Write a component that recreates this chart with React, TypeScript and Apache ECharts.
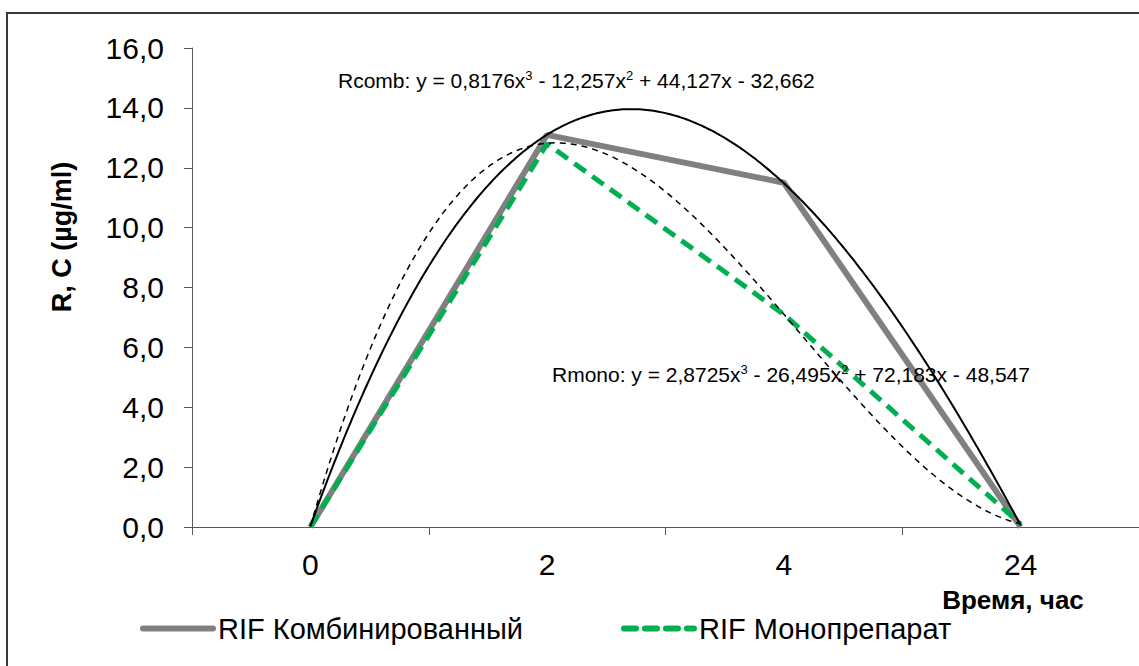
import React, { useEffect, useRef } from "react";
import * as echarts from "echarts";

const categories = ["0", "2", "4", "24"];
const combinedName = "RIF Комбинированный";
const monoName = "RIF Монопрепарат";
const combinedValues = [0, 13.1, 11.5, 0];
const monoValues = [0, 12.8, 7.1, 0.1];
// cubic trendline coefficients shown on the chart (x³, x², x, 1), x = category index 1..4
const combTrendCoef = [0.8176, -12.257, 44.127, -32.662];
const monoTrendCoef = [2.8725, -26.495, 72.183, -48.547];
const combEquation = "Rcomb: y = 0,8176x{s|3} - 12,257x{s|2} + 44,127x - 32,662";
const monoEquation = "Rmono: y = 2,8725x{s|3} - 26,495x{s|2} + 72,183x - 48,547";
const yTitle = "R, C (µg/ml)";
const xTitle = "Время, час";

const FONT = 'Arial, "Liberation Sans", sans-serif';

function trend(coef: number[]) {
  const pts: number[][] = [];
  for (let i = 0; i <= 300; i++) {
    const x = 1 + (3 * i) / 300;
    const y = ((coef[0] * x + coef[1]) * x + coef[2]) * x + coef[3];
    pts.push([x, y]);
  }
  return pts;
}

const eqRich = {
  s: { fontSize: 13, fontFamily: FONT, fill: "#000", padding: [0, 0, 9, 0] },
};

export default function App() {
  const ref = useRef<HTMLDivElement>(null);
  useEffect(() => {
    if (!ref.current) return;
    const chart = echarts.init(ref.current, null, { renderer: "svg" });
    chart.setOption({
      animation: false,
      backgroundColor: "#fff",
      textStyle: { fontFamily: FONT },
      grid: { left: 192, right: -1, top: 48, bottom: 139, containLabel: false },
      xAxis: [
        {
          type: "category",
          data: categories,
          boundaryGap: true,
          axisLine: { lineStyle: { color: "#595959", width: 1 } },
          axisTick: { show: true, length: 8, lineStyle: { color: "#595959" } },
          axisLabel: { fontSize: 30, color: "#000", margin: 22, fontFamily: FONT },
          splitLine: { show: false },
        },
        { type: "value", min: 0.5, max: 4.5, show: false },
      ],
      yAxis: {
        type: "value",
        min: 0,
        max: 16,
        interval: 2,
        axisLine: { show: true, lineStyle: { color: "#595959", width: 1 } },
        axisTick: { show: true, length: 8, lineStyle: { color: "#595959" } },
        axisLabel: {
          fontSize: 30,
          color: "#000",
          margin: 28,
          fontFamily: FONT,
          formatter: (v: number) => v.toFixed(1).replace(".", ","),
        },
        splitLine: { show: false },
      },
      legend: {
        data: [
          {
            name: combinedName,
            lineStyle: { width: 6, cap: "round", color: "#808080" },
          },
          {
            name: monoName,
            lineStyle: { width: 6, cap: "round", color: "#00B050", type: [12, 9] },
          },
        ],
        left: 135,
        top: 609,
        itemWidth: 70,
        itemHeight: 10,
        itemGap: 98,
        itemStyle: { opacity: 0 },
        textStyle: { fontSize: 29, color: "#000", fontFamily: FONT },
      },
      series: [
        {
          name: combinedName,
          type: "line",
          xAxisIndex: 1,
          symbol: "none",
          data: combinedValues.map((v, i) => [i + 1, v]),
          lineStyle: { color: "#808080", width: 6 },
          itemStyle: { color: "#808080" },
          z: 2,
        },
        {
          name: monoName,
          type: "line",
          xAxisIndex: 1,
          symbol: "none",
          data: monoValues.map((v, i) => [i + 1, v]),
          lineStyle: { color: "#00B050", width: 5, type: [14, 8] },
          itemStyle: { color: "#00B050" },
          z: 3,
        },
        {
          name: "Rcomb trend",
          type: "line",
          xAxisIndex: 1,
          symbol: "none",
          data: trend(combTrendCoef),
          lineStyle: { color: "#000", width: 2 },
          z: 4,
        },
        {
          name: "Rmono trend",
          type: "line",
          xAxisIndex: 1,
          symbol: "none",
          data: trend(monoTrendCoef),
          lineStyle: { color: "#000", width: 1.5, type: [6, 5] },
          z: 4,
        },
      ],
      graphic: [
        {
          type: "rect",
          shape: { x: 7, y: 13, width: 1300, height: 800 },
          style: { fill: "none", stroke: "#3a3a3a", lineWidth: 2 },
          silent: true,
          z: 100,
        },
        {
          type: "text",
          x: 338,
          y: 80,
          style: {
            text: combEquation,
            font: `21px ${FONT}`,
            fill: "#000",
            verticalAlign: "middle",
            rich: eqRich,
          },
          z: 50,
        },
        {
          type: "text",
          x: 552,
          y: 374,
          style: {
            text: monoEquation,
            font: `21px ${FONT}`,
            fill: "#000",
            verticalAlign: "middle",
            rich: eqRich,
          },
          z: 50,
        },
        {
          type: "text",
          x: 62,
          y: 237,
          rotation: Math.PI / 2,
          style: { text: yTitle, font: `bold 27px ${FONT}`, fill: "#000", align: "center", verticalAlign: "middle" },
          z: 50,
        },
        {
          type: "text",
          x: 1013,
          y: 600,
          style: { text: xTitle, font: `bold 26px ${FONT}`, fill: "#000", align: "center", verticalAlign: "middle" },
          z: 50,
        },
      ],
    });
    return () => chart.dispose();
  }, []);
  return (
    <div
      ref={ref}
      style={{ position: "fixed", left: 0, top: 0, width: 1139, height: 666 }}
    />
  );
}
